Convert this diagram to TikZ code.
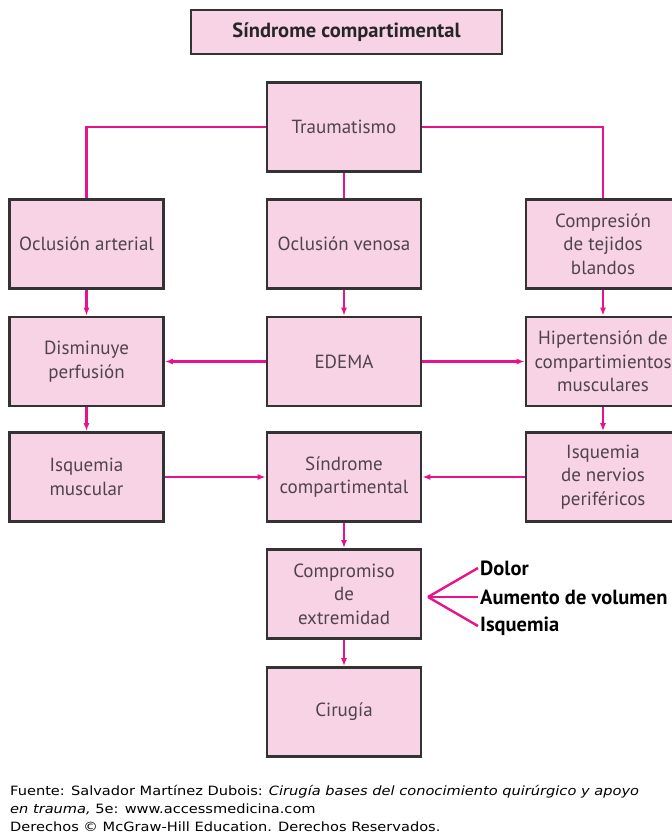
\documentclass[tikz,border=0pt]{standalone}
\usepackage{fontspec}
\setmainfont{PT Sans}
\newfontfamily\footfont[FakeStretch=1.14]{DejaVu Sans}
\usetikzlibrary{arrows.meta}
\definecolor{boxfill}{HTML}{F8D3E5}
\definecolor{boxborder}{HTML}{333333}
\definecolor{boxtext}{HTML}{4F434C}
\definecolor{mag}{HTML}{E8138A}
\tikzset{
  box/.style={draw=boxborder, line width=2.6pt, fill=boxfill, minimum width=154pt, minimum height=89pt,
    align=center, text=boxtext, font=\fontsize{19}{23.5}\selectfont, inner sep=2pt},
  conn/.style={draw=mag, line width=2.4pt},
  arr/.style={conn, -{Latex[length=8pt,width=6pt]}},
  lbl/.style={anchor=west, font=\fontsize{20.5}{22}\selectfont\bfseries, text=black, inner sep=2pt},
  foot/.style={anchor=base west, font=\footfont\fontsize{12.8}{15}\selectfont, text=black, inner sep=0pt}
}
\begin{document}
\begin{tikzpicture}[x=1pt,y=-1pt]
\useasboundingbox[fill=white] (0,0) rectangle (672,833);
\node[box, minimum width=311pt, minimum height=44pt, line width=2.2pt, text=black!85,
  font=\fontsize{20.5}{24}\selectfont\bfseries] (title) at (346.5,32) {Síndrome compartimental};
\node[box] (tr) at (344,127) {Traumatismo};
\node[box] (oa) at (86.5,244) {Oclusión arterial};
\node[box] (ov) at (344,244) {Oclusión venosa};
\node[box] (ct) at (603,244) {Compresión\\de tejidos\\blandos};
\node[box] (dp) at (86.5,361.5) {Disminuye\\perfusión};
\node[box] (ed) at (344,361.5) {EDEMA};
\node[box] (hc) at (603,361.5) {Hipertensión de\\compartimientos\\musculares};
\node[box] (im) at (86.5,477) {Isquemia\\muscular};
\node[box] (sc) at (344,477) {Síndrome\\compartimental};
\node[box] (ip) at (603,477) {Isquemia\\de nervios\\periféricos};
\node[box] (ce) at (344,594) {Compromiso\\de\\extremidad};
\node[box] (ci) at (344,712) {Cirugía};

\draw[conn] (tr.west) -| (oa.north);
\draw[conn] (tr.east) -| (ct.north);
\draw[conn] (tr) -- (ov);
\draw[arr] (oa) -- (dp);
\draw[arr] (ov) -- (ed);
\draw[arr] (ct) -- (hc);
\draw[arr] (ed) -- (dp);
\draw[arr] (ed) -- (hc);
\draw[arr] (dp) -- (im);
\draw[arr] (hc) -- (ip);
\draw[arr] (im) -- (sc);
\draw[arr] (ip) -- (sc);
\draw[arr] (sc) -- (ce);
\draw[arr] (ce) -- (ci);

\coordinate (f0) at (428,597);
\node[lbl] (l1) at (478,568) {Dolor};
\node[lbl] (l2) at (478,597) {Aumento de volumen};
\node[lbl] (l3) at (478,626) {Isquemia};
\draw[conn] (f0) -- (l1.west);
\draw[conn] (f0) -- (l2.west);
\draw[conn] (f0) -- (l3.west);

\node[foot] (ft1) at (10,795) {Fuente: Salvador Martínez Dubois: \textit{Cirugía bases del conocimiento quirúrgico y apoyo}};
\node[foot] (ft2) at (10,813) {\textit{en trauma,} 5e: www.accessmedicina.com};
\node[foot] (ft3) at (10,831) {Derechos © McGraw-Hill Education. Derechos Reservados.};
\end{tikzpicture}
\end{document}
